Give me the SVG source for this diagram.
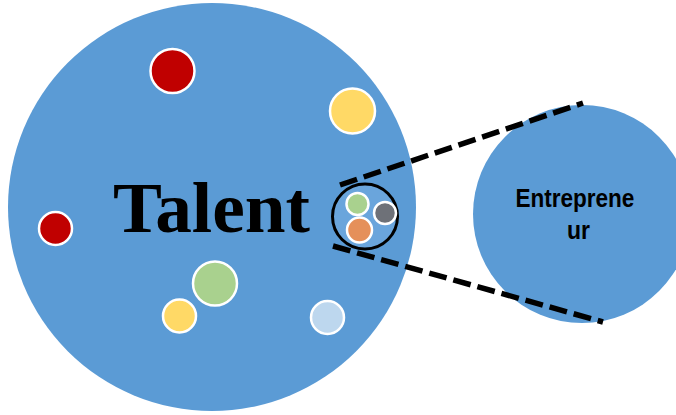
<svg xmlns="http://www.w3.org/2000/svg" width="676" height="415" viewBox="0 0 676 415">
<style>
.dot{stroke:#fff;stroke-width:2.5}
.dash{stroke:#000;stroke-width:5.5;stroke-dasharray:18 7;fill:none}
</style>
<rect width="676" height="415" fill="#fff"/>
<g id="talent">
<circle cx="212" cy="207" r="204" fill="#5B9BD5"/>
<text x="113" y="232" font-family="Liberation Serif, serif" font-weight="bold" font-size="72" fill="#000" textLength="197" lengthAdjust="spacingAndGlyphs">Talent</text>
</g>
<g id="dots">
<circle class="dot" cx="172.5" cy="71" r="22" fill="#C00000"/>
<circle class="dot" cx="352.5" cy="111" r="22.5" fill="#FFD966"/>
<circle class="dot" cx="55.5" cy="228.5" r="16.5" fill="#C00000"/>
<circle class="dot" cx="215" cy="283.5" r="22" fill="#A9D18E"/>
<circle class="dot" cx="179.5" cy="316" r="16.5" fill="#FFD966"/>
<circle class="dot" cx="327.5" cy="317.5" r="16.5" fill="#BDD7EE"/>
</g>
<g id="entrepreneur">
<circle cx="582" cy="214" r="109" fill="#5B9BD5"/>
<text font-family="Liberation Sans, Arial, sans-serif" font-weight="bold" font-size="26" fill="#000" text-anchor="middle">
<tspan x="578.5" y="207" textLength="119" lengthAdjust="spacingAndGlyphs">Entreprene</tspan>
<tspan x="578.5" y="239" textLength="23" lengthAdjust="spacingAndGlyphs">ur</tspan>
</text>
</g>
<g id="connectors">
<line class="dash" x1="340" y1="185" x2="583" y2="103"/>
<line class="dash" x1="333" y1="246" x2="603" y2="322"/>
</g>
<g id="zoom">
<circle cx="365" cy="216.5" r="32.5" fill="#6AA5DC" stroke="#000" stroke-width="3"/>
<circle class="dot" cx="357.5" cy="204" r="11" fill="#A9D18E"/>
<circle class="dot" cx="385" cy="213" r="11" fill="#6E7178"/>
<circle class="dot" cx="359.5" cy="230" r="12.5" fill="#E5905A"/>
</g>
</svg>
